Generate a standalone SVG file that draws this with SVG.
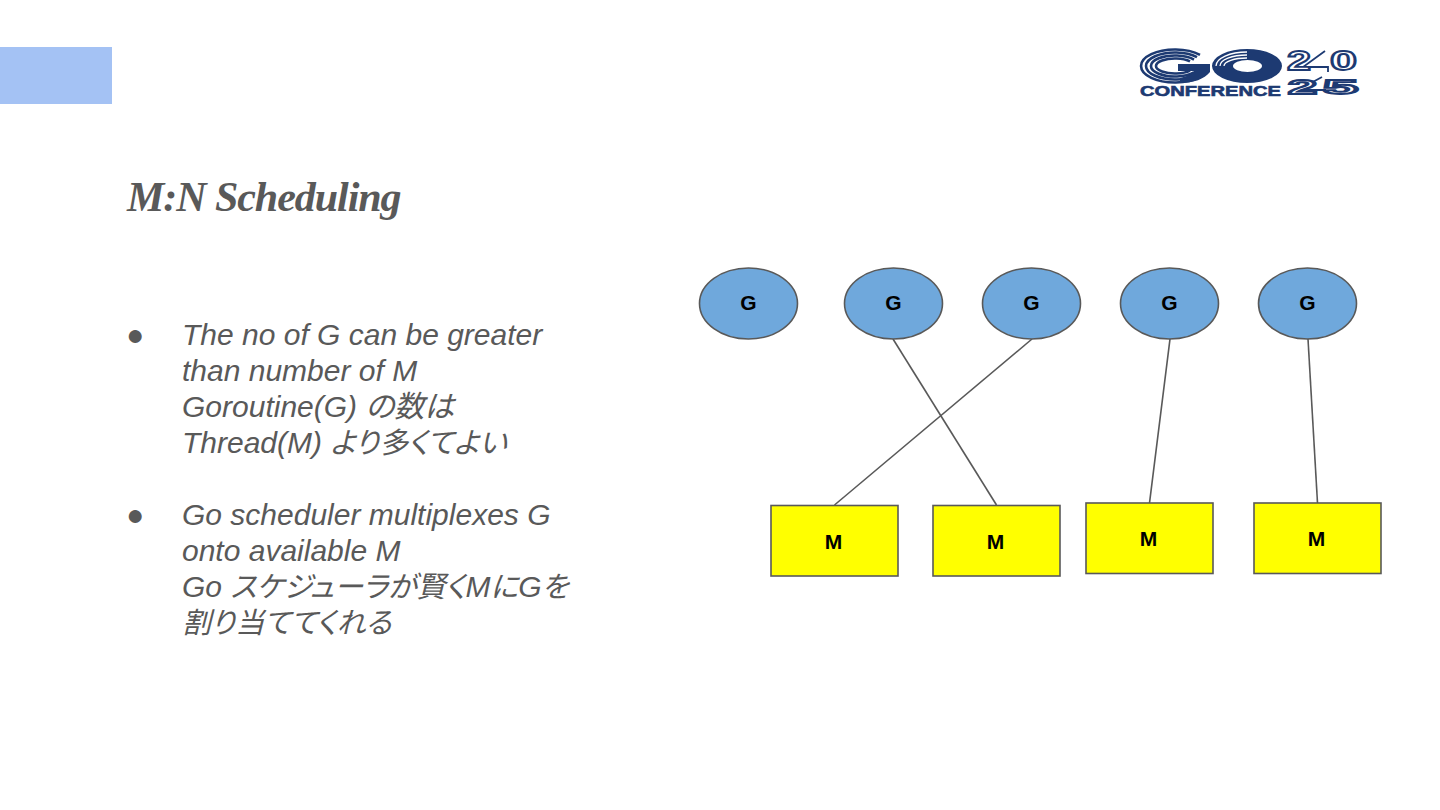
<svg xmlns="http://www.w3.org/2000/svg" width="1440" height="810" viewBox="0 0 1440 810">
<style>
.body{font-family:"Liberation Sans","Noto Sans CJK JP",sans-serif;font-size:30px;font-style:italic;fill:#595959}
.j{font-size:29px;font-feature-settings:"palt"}
.k{font-size:30px;font-feature-settings:"palt"}
.bul{font-family:"Liberation Sans","Noto Sans CJK JP",sans-serif;font-size:30px;fill:#595959}
.lab{font-family:"Liberation Sans",sans-serif;font-size:21px;font-weight:bold;fill:#000;text-anchor:middle}
.g{fill:#6fa8dc;stroke:#595959;stroke-width:1.6}
.m{fill:#ffff00;stroke:#595959;stroke-width:1.6}
.c{stroke:#595959;stroke-width:1.6;fill:none}
.navy{fill:none;stroke:#1d3a72;stroke-width:2.6}
.w{fill:none;stroke:#fff;stroke-width:1.3}
.dig{font-family:"Liberation Sans",sans-serif;font-weight:bold;fill:#fff;stroke:#1d3a72;stroke-width:1.8}
</style>
<rect id="accent" x="0" y="47" width="112" height="57" fill="#a4c2f4"/>
<g id="logo">
<g class="navy">
<path d="M1200 54.800A34 16.500 0 1 0 1200 77.200"/>
<path d="M1197 57.200A29 13.500 0 1 0 1197 74.800"/>
<path d="M1194 59.600A24 10.500 0 1 0 1194 72.400"/>
<path d="M1190 61.400A19 7.500 0 1 0 1190 70.600"/>
</g>
<path d="M1178 64H1210V72C1204 79 1194 83 1180 83V78C1188 76 1192 74 1194 71H1178Z" fill="#1d3a72"/>
<path fill-rule="evenodd" d="M1212 66A35 17 0 1 1 1282 66A35 17 0 1 1 1212 66ZM1233 66A14.500 6 0 1 0 1262 66A14.500 6 0 1 0 1233 66Z" fill="#1d3a72"/>
<g class="w">
<path d="M1247 52A31 14 0 0 0 1216 66"/>
<path d="M1247 55A27 11 0 0 0 1220 66"/>
<path d="M1247 58A23 8 0 0 0 1224 66"/>
</g>
<text x="1140" y="95.500" font-family="'Liberation Sans',sans-serif" font-weight="bold" font-size="15" textLength="141" lengthAdjust="spacingAndGlyphs" fill="#1d3a72" stroke="#1d3a72" stroke-width="0.6">CONFERENCE</text>
<path d="M1325 51L1303 67H1328V72M1322 77L1298 90H1326" fill="none" stroke="#1d3a72" stroke-width="1.8"/>
<text class="dig" font-size="28" x="1287" y="70" textLength="24" lengthAdjust="spacingAndGlyphs">2</text>
<text class="dig" font-size="28" x="1330" y="70" textLength="27" lengthAdjust="spacingAndGlyphs">0</text>
<text class="dig" font-size="20" x="1288" y="94" textLength="29" lengthAdjust="spacingAndGlyphs">2</text>
<text class="dig" font-size="20" x="1323" y="94" textLength="35" lengthAdjust="spacingAndGlyphs">5</text>
</g>
<text id="title" x="127" y="211" font-family="'Liberation Serif',serif" font-size="42" font-weight="bold" font-style="italic" letter-spacing="-1.05" fill="#595959">M:N Scheduling</text>
<g id="bullets">
<text class="bul" x="126" y="345">●</text>
<text class="body" x="182" y="345">The no of G can be greater</text>
<text class="body" x="182" y="381">than number of M</text>
<text class="body" x="182" y="417">Goroutine(G) <tspan class="k">の数は</tspan></text>
<text class="body" x="182" y="453">Thread(M) <tspan class="j">より多くてよい</tspan></text>
<text class="bul" x="126" y="525">●</text>
<text class="body" x="182" y="525">Go scheduler multiplexes G</text>
<text class="body" x="182" y="561">onto available M</text>
<text class="body" x="182" y="597">Go <tspan class="j">スケジューラが賢く</tspan>M<tspan class="j">に</tspan>G<tspan class="j">を</tspan></text>
<text class="body" x="182" y="633"><tspan class="j">割り当ててくれる</tspan></text>
</g>
<g id="connectors">
<line class="c" x1="893" y1="339" x2="996.500" y2="505"/>
<line class="c" x1="1032" y1="339" x2="834.500" y2="505"/>
<line class="c" x1="1170" y1="339" x2="1149.500" y2="503"/>
<line class="c" x1="1308" y1="339" x2="1317.500" y2="503"/>
</g>
<g id="g1"><ellipse class="g" cx="748.500" cy="303.500" rx="49" ry="35.500"/><text class="lab" x="748.500" y="310">G</text></g>
<g id="g2"><ellipse class="g" cx="893.500" cy="303.500" rx="49" ry="35.500"/><text class="lab" x="893.500" y="310">G</text></g>
<g id="g3"><ellipse class="g" cx="1031.500" cy="303.500" rx="49" ry="35.500"/><text class="lab" x="1031.500" y="310">G</text></g>
<g id="g4"><ellipse class="g" cx="1169.500" cy="303.500" rx="49" ry="35.500"/><text class="lab" x="1169.500" y="310">G</text></g>
<g id="g5"><ellipse class="g" cx="1307.500" cy="303.500" rx="49" ry="35.500"/><text class="lab" x="1307.500" y="310">G</text></g>
<g id="m1"><rect class="m" x="771" y="505.500" width="127" height="70.500"/><text class="lab" x="833.500" y="548.500">M</text></g>
<g id="m2"><rect class="m" x="933" y="505.500" width="127" height="70.500"/><text class="lab" x="995.500" y="548.500">M</text></g>
<g id="m3"><rect class="m" x="1086" y="503" width="127" height="70.500"/><text class="lab" x="1148.500" y="545.500">M</text></g>
<g id="m4"><rect class="m" x="1254" y="503" width="127" height="70.500"/><text class="lab" x="1316.500" y="545.500">M</text></g>
</svg>
